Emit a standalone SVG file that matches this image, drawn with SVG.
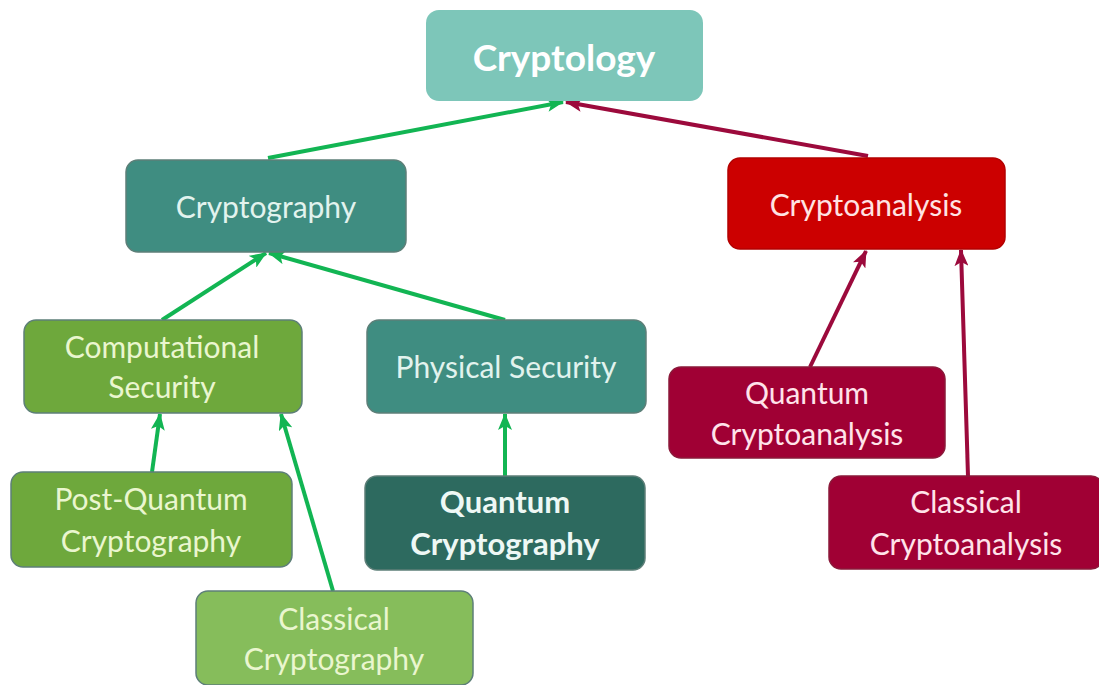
<svg xmlns="http://www.w3.org/2000/svg" width="1099" height="685" viewBox="0 0 1099 685">
  <style>
    .box { stroke: #5d7f78; stroke-width: 1.5; }
    .lbl { font-family: Lato, "Open Sans", sans-serif; font-size: 30px; text-anchor: middle; }
    .teal { fill: #3f8d81; }
    .tealTxt { fill: #e2f3ee; }
    .green { fill: #6ea83c; }
    .greenTxt { fill: #eaf6cf; }
    .lgreen { fill: #86bd5b; }
    .red { fill: #cc0000; stroke: #b30000; }
    .redTxt { fill: #ffe3e3; }
    .crimson { fill: #a00034; stroke: #8a1a3a; }
    .crimsonTxt { fill: #ffe3ea; }
    .g-edge { stroke: #12b553; stroke-width: 4; fill: none; marker-end: url(#ag); }
    .r-edge { stroke: #9c0a3c; stroke-width: 4; fill: none; marker-end: url(#ar); }
  </style>
  <defs>
    <marker id="ag" markerUnits="userSpaceOnUse" markerWidth="18" markerHeight="14" refX="16" refY="7" orient="auto">
      <path d="M0,0 L17,7 L0,14 L4,7 Z" fill="#12b553"/>
    </marker>
    <marker id="ar" markerUnits="userSpaceOnUse" markerWidth="18" markerHeight="14" refX="16" refY="7" orient="auto">
      <path d="M0,0 L17,7 L0,14 L4,7 Z" fill="#9c0a3c"/>
    </marker>
  </defs>

  <rect width="1099" height="685" fill="#ffffff"/>

  <g id="connectors">
    <line class="g-edge" x1="268" y1="158" x2="563" y2="102"/>
    <line class="r-edge" x1="868" y1="156" x2="566" y2="102"/>
    <line class="g-edge" x1="162" y1="320" x2="266" y2="253"/>
    <line class="g-edge" x1="505" y1="320" x2="269" y2="253"/>
    <line class="g-edge" x1="152" y1="472" x2="160" y2="414"/>
    <line class="g-edge" x1="333" y1="591" x2="281" y2="414"/>
    <line class="g-edge" x1="505" y1="476" x2="505" y2="414"/>
    <line class="r-edge" x1="810" y1="367" x2="866" y2="251"/>
    <line class="r-edge" x1="968" y1="476" x2="961" y2="250"/>
  </g>

  <g id="cryptology">
    <rect x="426" y="10" width="277" height="91" rx="13" fill="#7dc6b9"/>
    <text class="lbl" x="564" y="71" style="font-size:37px;font-weight:bold;fill:#ffffff">Cryptology</text>
  </g>

  <g id="cryptography">
    <rect class="box teal" x="126" y="160" width="280" height="92" rx="12"/>
    <text class="lbl tealTxt" x="266" y="218">Cryptography</text>
  </g>

  <g id="cryptoanalysis">
    <rect class="box red" x="728" y="158" width="277" height="91" rx="12"/>
    <text class="lbl redTxt" x="866" y="216">Cryptoanalysis</text>
  </g>

  <g id="computational-security">
    <rect class="box green" x="24" y="320" width="278" height="93" rx="12"/>
    <text class="lbl greenTxt" x="162" y="358">Computational</text>
    <text class="lbl greenTxt" x="162" y="398">Security</text>
  </g>

  <g id="physical-security">
    <rect class="box teal" x="367" y="320" width="279" height="93" rx="12"/>
    <text class="lbl tealTxt" x="506" y="378">Physical Security</text>
  </g>

  <g id="post-quantum-cryptography">
    <rect class="box green" x="11" y="472" width="281" height="95" rx="12"/>
    <text class="lbl greenTxt" x="151" y="510">Post-Quantum</text>
    <text class="lbl greenTxt" x="151" y="552">Cryptography</text>
  </g>

  <g id="quantum-cryptography">
    <rect class="box" x="365" y="476" width="280" height="94" rx="12" fill="#2d6a5f"/>
    <text class="lbl" x="505" y="513" style="font-weight:bold;font-size:31px;fill:#eef8f5">Quantum</text>
    <text class="lbl" x="505" y="555" style="font-weight:bold;font-size:31px;fill:#eef8f5">Cryptography</text>
  </g>

  <g id="classical-cryptography">
    <rect class="box lgreen" x="196" y="591" width="277" height="94" rx="12"/>
    <text class="lbl greenTxt" x="334" y="630">Classical</text>
    <text class="lbl greenTxt" x="334" y="670">Cryptography</text>
  </g>

  <g id="quantum-cryptoanalysis">
    <rect class="box crimson" x="669" y="367" width="276" height="91" rx="12"/>
    <text class="lbl crimsonTxt" x="807" y="404">Quantum</text>
    <text class="lbl crimsonTxt" x="807" y="445">Cryptoanalysis</text>
  </g>

  <g id="classical-cryptoanalysis">
    <rect class="box crimson" x="829" y="476" width="274" height="93" rx="12"/>
    <text class="lbl crimsonTxt" x="966" y="513">Classical</text>
    <text class="lbl crimsonTxt" x="966" y="555">Cryptoanalysis</text>
  </g>
</svg>
